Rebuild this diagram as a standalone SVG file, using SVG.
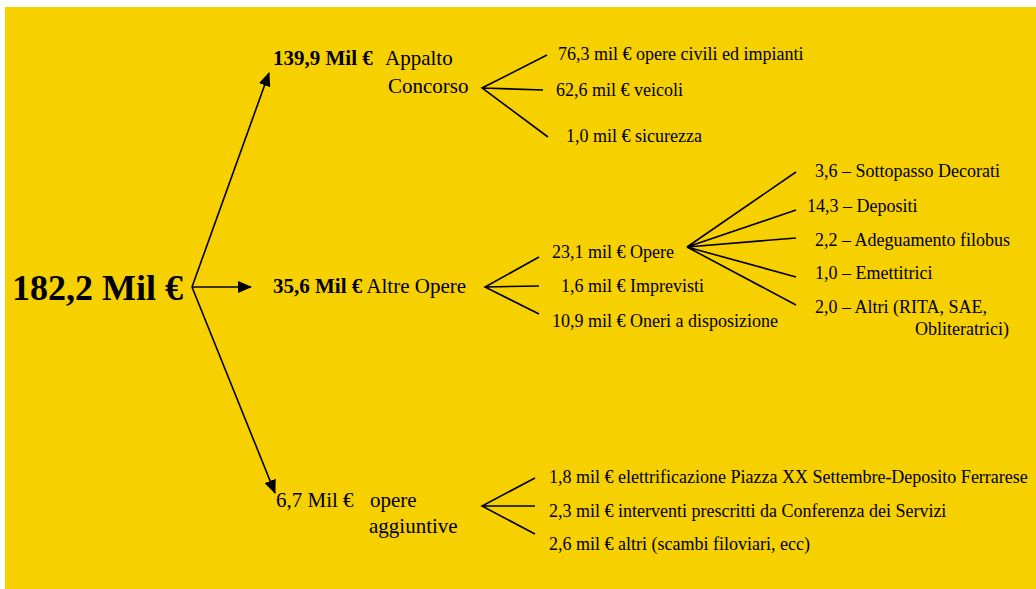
<svg xmlns="http://www.w3.org/2000/svg" width="1036" height="589" viewBox="0 0 1036 589">
<style>
text{font-family:"Liberation Serif","Times New Roman",serif;fill:#000}
.big{font-size:36px;font-weight:bold}
.mid{font-size:21px}
.b{font-weight:bold}
.sm{font-size:18px}
.ln{stroke:#000;stroke-width:1.6;fill:none}
</style>
<defs>
<marker id="ah" markerUnits="userSpaceOnUse" markerWidth="14" markerHeight="12" refX="13" refY="6" orient="auto">
<path d="M0,0 L14,6 L0,12 z" fill="#000"/>
</marker>
</defs>
<rect width="1036" height="589" fill="#fff"/>
<rect x="5" y="7" width="1031" height="582" fill="#F7D000"/>

<g id="connectors">
<line class="ln" x1="192" y1="287" x2="269" y2="73" marker-end="url(#ah)"/>
<line class="ln" x1="192" y1="287" x2="251" y2="287" marker-end="url(#ah)"/>
<line class="ln" x1="192" y1="287" x2="275" y2="493" marker-end="url(#ah)"/>
<path class="ln" d="M547,55 L482,88 L548,137 M482,88 L543,90"/>
<path class="ln" d="M539,257 L485,287 L539,314 M485,287 L539,286"/>
<path class="ln" d="M796,172 L687,247 L796,210 M687,247 L796,238 M687,247 L796,277 M687,247 L796,305"/>
<path class="ln" d="M535,478 L482,506 L535,534 M482,506 L535,506"/>
</g>

<g id="root"><text class="big" x="12" y="300">182,2 Mil €</text></g>

<g id="appalto">
<text class="mid b" x="273" y="65">139,9 Mil €</text>
<text class="mid" x="385" y="65">Appalto</text>
<text class="mid" x="388" y="93">Concorso</text>
</g>
<g id="altre"><text class="mid" x="273" y="293"><tspan class="b">35,6 Mil €</tspan> Altre Opere</text></g>
<g id="aggiuntive">
<text class="mid" x="276" y="507">6,7 Mil €</text>
<text class="mid" x="370" y="507">opere</text>
<text class="mid" x="369" y="533">aggiuntive</text>
</g>

<g id="civili"><text class="sm" x="558" y="60">76,3 mil € opere civili ed impianti</text></g>
<g id="veicoli"><text class="sm" x="556" y="96">62,6 mil € veicoli</text></g>
<g id="sicurezza"><text class="sm" x="566" y="142">1,0 mil € sicurezza</text></g>

<g id="opere"><text class="sm" x="552" y="258">23,1 mil € Opere</text></g>
<g id="imprevisti"><text class="sm" x="561" y="292">1,6 mil € Imprevisti</text></g>
<g id="oneri"><text class="sm" x="552" y="327">10,9 mil € Oneri a disposizione</text></g>

<g id="sottopasso"><text class="sm" x="815" y="177">3,6 – Sottopasso Decorati</text></g>
<g id="depositi"><text class="sm" x="807" y="212">14,3 – Depositi</text></g>
<g id="filobus"><text class="sm" x="815" y="246">2,2 – Adeguamento filobus</text></g>
<g id="emettitrici"><text class="sm" x="815" y="279">1,0 – Emettitrici</text></g>
<g id="altri"><text class="sm" x="815" y="313">2,0 – Altri (RITA, SAE,</text><text class="sm" x="915" y="335">Obliteratrici)</text></g>

<g id="elettrificazione"><text class="sm" x="549" y="483">1,8 mil € elettrificazione Piazza XX Settembre-Deposito Ferrarese</text></g>
<g id="interventi"><text class="sm" x="549" y="517">2,3 mil € interventi prescritti da Conferenza dei Servizi</text></g>
<g id="scambi"><text class="sm" x="549" y="550">2,6 mil € altri (scambi filoviari, ecc)</text></g>
</svg>
